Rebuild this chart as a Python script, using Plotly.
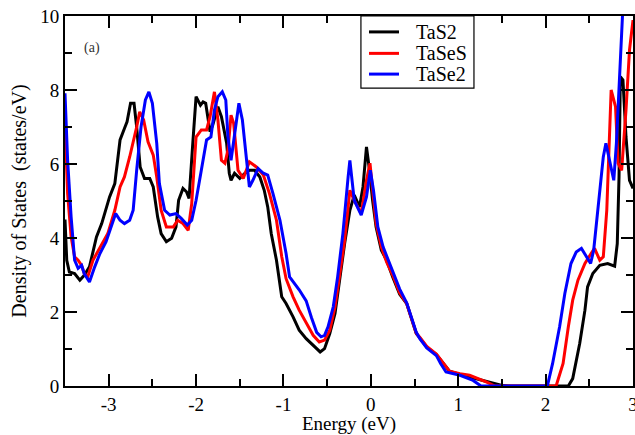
import plotly.graph_objects as go

# ---- data (energy in eV, DOS in states/eV) ----
e_tas2 = [-3.50, -3.48, -3.45, -3.39, -3.33, -3.28, -3.22, -3.14, -3.08, -2.99, -2.93, -2.87, -2.82, -2.79,
          -2.75, -2.71, -2.68, -2.64, -2.59, -2.53, -2.49, -2.44, -2.40, -2.34, -2.28, -2.23, -2.20, -2.15,
          -2.11, -2.08, -2.035, -2.00, -1.95, -1.92, -1.89, -1.84, -1.81, -1.75, -1.71, -1.65, -1.62, -1.60,
          -1.56, -1.50, -1.44, -1.39, -1.33, -1.27, -1.22, -1.18, -1.14, -1.08, -1.02, -0.97, -0.89, -0.82,
          -0.74, -0.66, -0.58, -0.53, -0.47, -0.41, -0.36, -0.30, -0.24, -0.19, -0.13, -0.09, -0.05, -0.02,
          0.02, 0.06, 0.12, 0.18, 0.25, 0.33, 0.41, 0.46, 0.52, 0.56, 0.64, 0.75, 0.83, 0.90, 1.02, 1.21,
          1.36, 1.49, 1.60, 2.26, 2.31, 2.39, 2.45, 2.48, 2.54, 2.62, 2.71, 2.79, 2.82, 2.84, 2.855, 2.885,
          2.92, 2.96, 3.00]
dos_tas2 = [4.50, 3.40, 3.08, 3.04, 2.86, 2.99, 3.22, 4.03, 4.39, 5.11, 5.47, 6.65, 6.96, 7.14,
            7.64, 7.64, 7.00, 5.92, 5.61, 5.61, 5.38, 4.57, 4.12, 3.90, 3.99, 4.30, 5.02, 5.34,
            5.25, 5.07, 6.65, 7.82, 7.59, 7.68, 7.64, 6.87, 7.05, 7.55, 7.28, 6.56, 5.75, 5.56,
            5.75, 5.61, 5.75, 5.83, 5.83, 5.65, 5.29, 4.84, 4.12, 3.40, 2.41, 2.23, 1.87, 1.51,
            1.28, 1.10, 0.92, 1.01, 1.42, 1.96, 2.86, 3.85, 4.75, 5.16, 4.84, 5.38, 6.46, 5.92,
            5.02, 4.30, 3.67, 3.40, 2.95, 2.48, 2.23, 1.87, 1.42, 1.30, 1.05, 0.85, 0.61, 0.40, 0.31, 0.20,
            0.11, 0.02, 0.0, 0.0, 0.20, 1.15, 2.05, 2.68, 3.04, 3.26, 3.31, 3.24, 3.85, 5.65, 8.36, 8.27,
            6.73, 5.56, 5.34]

e_tases = [-3.50, -3.47, -3.43, -3.39, -3.35, -3.31, -3.28, -3.24, -3.18, -3.10, -3.01, -2.93, -2.87, -2.82,
           -2.76, -2.68, -2.645, -2.60, -2.55, -2.49, -2.45, -2.40, -2.34, -2.26, -2.21, -2.15, -2.09, -2.05,
           -2.00, -1.94, -1.88, -1.84, -1.79, -1.75, -1.71, -1.67, -1.635, -1.60, -1.57, -1.52, -1.46, -1.39,
           -1.31, -1.23, -1.16, -1.08, -1.02, -0.97, -0.89, -0.82, -0.74, -0.66, -0.59, -0.53, -0.47, -0.41,
           -0.36, -0.30, -0.24, -0.19, -0.11, -0.05, -0.01, 0.02, 0.06, 0.12, 0.18, 0.25, 0.33, 0.41, 0.46,
           0.52, 0.56, 0.64, 0.75, 0.83, 0.90, 1.02, 1.13, 1.32, 1.42, 2.12, 2.20, 2.26, 2.31, 2.37, 2.45,
           2.52, 2.56, 2.62, 2.66, 2.70, 2.73, 2.75, 2.80, 2.83, 2.87, 2.92, 2.96, 3.00]
dos_tases = [7.05, 5.20, 4.03, 3.49, 3.40, 3.26, 3.04, 2.95, 3.40, 3.72, 4.12, 4.75, 5.38, 5.65,
             6.19, 7.00, 7.41, 7.19, 6.60, 6.24, 5.65, 4.75, 4.30, 4.30, 4.48, 4.39, 4.21, 4.93,
             6.73, 6.92, 6.92, 7.28, 7.95, 7.19, 6.10, 6.02, 6.38, 7.32, 7.10, 5.83, 5.61, 6.06,
             5.92, 5.70, 5.20, 4.48, 3.50, 2.90, 2.41, 2.05, 1.69, 1.37, 1.19, 1.24, 1.51, 2.14,
             2.95, 3.94, 5.29, 5.02, 4.66, 5.56, 6.02, 5.29, 4.39, 3.76, 3.35, 3.00, 2.52, 2.23, 1.87,
             1.42, 1.32, 1.07, 0.86, 0.62, 0.40, 0.33, 0.29, 0.11, 0.0, 0.0, 0.61, 1.60, 2.32, 2.86, 3.31,
             3.58, 3.72, 3.40, 3.49, 4.75, 6.56, 8.00, 7.55, 6.02, 5.83, 7.46, 9.08, 9.89]

e_tase2 = [-3.50, -3.47, -3.43, -3.39, -3.35, -3.31, -3.28, -3.22, -3.16, -3.10, -3.03, -2.97, -2.92, -2.87,
           -2.82, -2.76, -2.72, -2.68, -2.63, -2.58, -2.54, -2.50, -2.45, -2.42, -2.36, -2.30, -2.23, -2.17,
           -2.10, -2.05, -2.00, -1.94, -1.88, -1.83, -1.79, -1.75, -1.70, -1.66, -1.635, -1.60, -1.56, -1.51,
           -1.47, -1.42, -1.39, -1.35, -1.29, -1.23, -1.18, -1.12, -1.04, -0.97, -0.93, -0.82, -0.74, -0.68,
           -0.62, -0.57, -0.53, -0.49, -0.43, -0.38, -0.32, -0.26, -0.24, -0.19, -0.11, -0.05, -0.006, 0.03,
           0.08, 0.14, 0.23, 0.33, 0.41, 0.46, 0.52, 0.56, 0.64, 0.75, 0.80, 0.86, 1.02, 1.17, 1.26, 2.02,
           2.08, 2.16, 2.22, 2.29, 2.35, 2.41, 2.47, 2.515, 2.55, 2.60, 2.66, 2.69, 2.73, 2.78, 2.81, 2.84,
           2.88, 2.92, 3.00]
dos_tase2 = [7.91, 6.10, 4.57, 3.40, 3.18, 3.26, 3.04, 2.81, 3.22, 3.58, 3.90, 4.30, 4.66, 4.48,
             4.39, 4.48, 4.75, 5.83, 7.00, 7.73, 7.95, 7.64, 6.56, 5.47, 4.75, 4.62, 4.66, 4.53,
             4.35, 4.48, 5.02, 5.83, 6.65, 6.73, 7.46, 7.82, 7.95, 7.73, 6.73, 6.10, 6.73, 7.64,
             7.19, 6.10, 5.38, 5.56, 5.88, 5.75, 5.70, 5.20, 4.48, 3.58, 2.95, 2.60, 2.30, 1.85,
             1.45, 1.33, 1.37, 1.60, 2.14, 2.95, 4.12, 5.65, 6.10, 5.02, 4.62, 5.11, 5.83, 5.29,
             4.30, 3.76, 3.22, 2.62, 2.25, 1.90, 1.45, 1.28, 1.03, 0.82, 0.60, 0.38, 0.29, 0.15, 0.0, 0.0,
             0.61, 1.60, 2.50, 3.31, 3.62, 3.72, 3.49, 3.31, 3.67, 4.75, 6.19, 6.56, 6.10, 5.56, 6.56, 8.36,
             10.3, 12.0, 12.5]

series_names = ["TaS2", "TaSeS", "TaSe2"]
series_colors = ["#000000", "#ff0000", "#0000ff"]
series_x = [e_tas2, e_tases, e_tase2]
series_y = [dos_tas2, dos_tases, dos_tase2]

x_tickvals = [-3, -2, -1, 0, 1, 2, 3]
x_ticktext = ["-3", "-2", "-1", "0", "1", "2", "3"]
y_tickvals = [0, 2, 4, 6, 8, 10]

FONT = "Liberation Serif"

fig = go.Figure()
for name, xs, ys, col in zip(series_names, series_x, series_y, series_colors):
    fig.add_trace(go.Scatter(x=xs, y=ys, mode="lines", name=name, showlegend=False,
                             line=dict(color=col, width=3)))

axis_common = dict(showline=True, linewidth=2, linecolor="black", mirror="allticks",
                   ticks="inside", ticklen=12, tickwidth=1.5, tickcolor="black",
                   showgrid=False, zeroline=False, ticklabeloverflow="allow", automargin=False,
                   tickfont=dict(family=FONT, size=19, color="black"))

fig.update_xaxes(range=[-3.5, 3], tickvals=x_tickvals, ticktext=x_ticktext,
                 minor=dict(ticks="inside", ticklen=7, tickwidth=1.5, tickcolor="black", dtick=0.5),
                 title=dict(text="Energy (eV)", font=dict(family=FONT, size=19, color="black"), standoff=6),
                 ticklabelstandoff=0, **axis_common)
fig.update_yaxes(range=[0, 10], tickvals=y_tickvals,
                 minor=dict(ticks="inside", ticklen=7, tickwidth=1.5, tickcolor="black", dtick=1),
                 title=dict(text="Density of States\u00a0\u00a0(states/eV)",
                            font=dict(family=FONT, size=20, color="black"), standoff=8),
                 **axis_common)

fig.add_annotation(text="(a)", xref="paper", yref="paper", x=0.047, y=0.914,
                   xanchor="center", yanchor="middle",
                   showarrow=False, font=dict(family=FONT, size=14, color="#333333"))

# legend box drawn in paper coordinates (compact, like the original)
LEG_X0, LEG_X1, LEG_Y0, LEG_Y1 = 0.521, 0.720, 0.805, 1.0
LEG_ROWS = [0.957, 0.899, 0.843]
fig.add_shape(type="rect", xref="paper", yref="paper", x0=LEG_X0, x1=LEG_X1, y0=LEG_Y0, y1=LEG_Y1,
              line=dict(color="black", width=1.2), fillcolor="white", layer="above")
for name, col, ry in zip(series_names, series_colors, LEG_ROWS):
    fig.add_shape(type="line", xref="paper", yref="paper", x0=0.5352, x1=0.588, y0=ry, y1=ry,
                  line=dict(color=col, width=3), layer="above")
    fig.add_annotation(text=name, xref="paper", yref="paper", x=0.6144, y=ry,
                       xanchor="left", yanchor="middle", showarrow=False,
                       font=dict(family=FONT, size=20, color="black"))

fig.update_layout(width=635, height=435, margin=dict(l=65, r=2, t=16, b=49),
                  paper_bgcolor="white", plot_bgcolor="white",
                  font=dict(family=FONT, color="black"), showlegend=False)

fig.write_html("out.html")
